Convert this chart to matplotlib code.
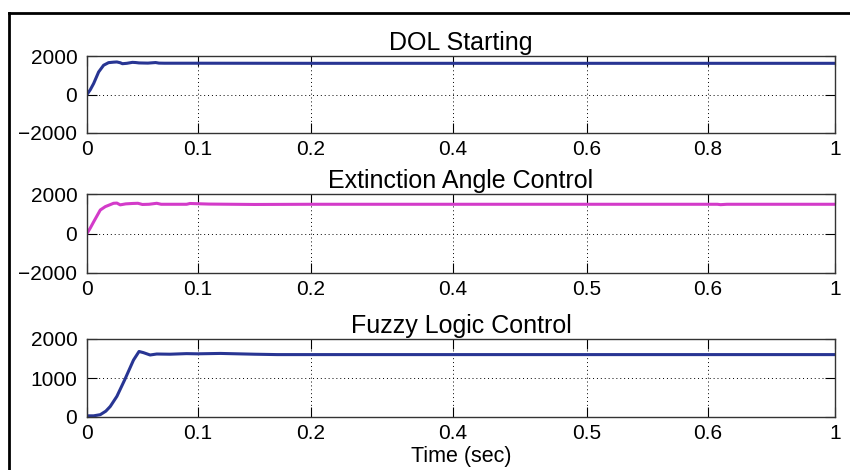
import numpy as np
import matplotlib.pyplot as plt
from matplotlib.lines import Line2D

plt.rcParams['font.family'] = ['Liberation Sans', 'DejaVu Sans']
plt.rcParams['font.size'] = 15
plt.rcParams['axes.unicode_minus'] = True

# tick values shown on each panel (axis is piecewise, ticks equally-ish spaced)
ticks_top = [0, 0.1, 0.2, 0.4, 0.6, 0.8, 1]
ticks_low = [0, 0.1, 0.2, 0.4, 0.5, 0.6, 1]
tick_frac = [0, 0.148, 0.2995, 0.489, 0.668, 0.830, 1.0]

titles = ['DOL Starting', 'Extinction Angle Control', 'Fuzzy Logic Control']

# speed traces
t_dol = [0, 0.003, 0.006, 0.0105, 0.015, 0.0195, 0.024, 0.027, 0.030, 0.032,
         0.036, 0.041, 0.044, 0.047, 0.055, 0.062, 0.065, 0.07, 0.1, 0.2, 1.0]
v_dol = [0, 250, 570, 1170, 1520, 1655, 1680, 1690, 1650, 1600,
         1620, 1670, 1660, 1640, 1630, 1660, 1630, 1625, 1625, 1620, 1620]

t_eac = [0, 0.003, 0.006, 0.012, 0.0165, 0.024, 0.027, 0.030, 0.035, 0.041,
         0.046, 0.050, 0.056, 0.063, 0.067, 0.09, 0.093, 0.11, 0.15, 0.2, 0.63, 0.64, 0.66, 1.0]
v_eac = [0, 280, 590, 1190, 1360, 1530, 1540, 1450, 1500, 1520,
         1530, 1470, 1480, 1530, 1480, 1480, 1520, 1490, 1470, 1480, 1480, 1460, 1480, 1480]

t_flc = [0, 0.006, 0.012, 0.017, 0.021, 0.027, 0.034, 0.042, 0.047, 0.051,
         0.057, 0.063, 0.075, 0.09, 0.1, 0.12, 0.15, 0.17, 0.3, 1.0]
v_flc = [30, 30, 60, 150, 270, 530, 950, 1460, 1680, 1650,
         1590, 1615, 1610, 1625, 1620, 1630, 1610, 1600, 1600, 1600]

series = [(t_dol, v_dol, '#283593', [-2000, 0, 2000], ticks_top),
          (t_eac, v_eac, '#d33bc9', [-2000, 0, 2000], ticks_low),
          (t_flc, v_flc, '#283593', [0, 1000, 2000], ticks_low)]

fig = plt.figure(figsize=(8.5, 4.7), dpi=100)
W, H = 850, 470
boxes = [(56, 133), (194, 273), (339, 417)]
left, right = 87, 835

for (top, bot), (t, v, col, yt, xt), title in zip(boxes, series, titles):
    ax = fig.add_axes([left / W, 1 - bot / H, (right - left) / W, (bot - top) / H])
    fwd = lambda x, xt=xt: np.interp(x, xt, tick_frac)
    inv = lambda y, xt=xt: np.interp(y, tick_frac, xt)
    ax.set_xscale('function', functions=(fwd, inv))
    ax.plot(t, v, color=col, lw=2.2)
    ax.set_xlim(0, 1)
    ax.set_ylim(yt[0], yt[-1])
    ax.set_xticks(xt)
    ax.set_xticklabels(['%g' % x for x in xt])
    ax.set_yticks(yt)
    ax.set_yticklabels([('%d' % y).replace('-', '\u2212') for y in yt])
    ax.tick_params(direction='in', length=7, top=True, right=True)
    ax.tick_params(axis='y', pad=7)
    ax.tick_params(axis='x', pad=5)
    ax.grid(True, color='k', ls=(0, (1, 3)), lw=0.7)
    for s in ax.spines.values():
        s.set_linewidth(1.0)
        s.set_color('#333333')
    ax.set_title(title, pad=4)
    if title == titles[-1]:
        ax.set_xlabel('Time (sec)', fontsize=15.5, labelpad=2)

# outer frame (top and left edges only visible)
fig.add_artist(Line2D([9 / W, 1], [1 - 13 / H, 1 - 13 / H], color='k', lw=2))
fig.add_artist(Line2D([9 / W, 9 / W], [0, 1 - 13 / H], color='k', lw=2))

fig.savefig('out.png', dpi=100)
